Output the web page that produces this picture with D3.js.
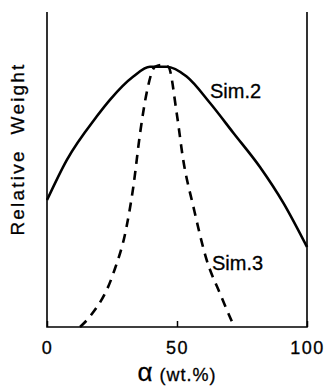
<!DOCTYPE html>
<html>
<head>
<meta charset="utf-8">
<script src="https://cdn.jsdelivr.net/npm/d3@7"></script>
<style>
  body { margin: 0; background: #fff; }
  text { font-family: "Liberation Sans", Arial, sans-serif; fill: #000; }
</style>
</head>
<body>
<div id="chart"></div>
<script>
// Sim.2 (solid) and Sim.3 (dashed), relative weight vs alpha (wt%)
const sim2X = [0, 7.6, 19.1, 24.2, 33.2, 39.6, 46.0, 53.7, 62.7, 71.7, 81.9, 90.9, 100];
const sim2Y = [40.3, 53.0, 66.8, 72.1, 79.5, 82.6, 82.6, 79.5, 71.1, 61.6, 50.8, 39.4, 25.4];
const sim3X = [12.7, 16.5, 25.5, 30.6, 33.2, 35.8, 38.3, 41.5, 44, 46.7, 49.9, 52.4, 56.3, 61.4, 66.5, 71.7];
const sim3Y = [0, 3.3, 17.0, 31.8, 44.5, 61.5, 74.2, 82.6, 83.2, 82.6, 67.8, 53.0, 38.2, 21.3, 10.7, 0.6];
const xTicks = [0, 50, 100];

let svgWidth = 325, svgHeight = 388;
let margin = {top: 12, right: 18, bottom: 61, left: 47},
    width = svgWidth - margin.left - margin.right,
    height = svgHeight - margin.top - margin.bottom;

let svg = d3.select("#chart").append("svg")
    .attr("width", svgWidth)
    .attr("height", svgHeight);

let x = d3.scaleLinear().domain([0, 100]).range([0, width]),
    y = d3.scaleLinear().domain([0, 100]).range([height, 0]),
    g = svg.append("g").attr("transform", "translate(" + margin.left + "," + margin.top + ")");

// frame: left, right and bottom lines only
g.append("path")
    .attr("d", "M0,0V" + height + "H" + width + "V0")
    .attr("fill", "none")
    .attr("stroke", "#000")
    .attr("stroke-width", 1.6);

// x axis ticks / labels
let xAxis = g.append("g")
    .attr("transform", "translate(0," + height + ")")
    .call(d3.axisBottom(x).tickValues(xTicks).tickSizeInner(-6).tickSizeOuter(0).tickPadding(14));
xAxis.select(".domain").remove();
xAxis.selectAll("line").attr("stroke-width", 1.5);
xAxis.selectAll("text")
    .attr("font-size", 18)
    .attr("letter-spacing", 1.5)
    .attr("stroke", "#000").attr("stroke-width", 0.3)
    .attr("font-family", "Liberation Sans, Arial, sans-serif");

let line = d3.line().x(d => x(d[0])).y(d => y(d[1])).curve(d3.curveMonotoneX);

g.append("path")
    .datum(sim2X.map((v, i) => [v, sim2Y[i]]))
    .attr("fill", "none")
    .attr("stroke", "#000")
    .attr("stroke-width", 2.6)
    .attr("d", line);

g.append("path")
    .datum(sim3X.map((v, i) => [v, sim3Y[i]]))
    .attr("fill", "none")
    .attr("stroke", "#000")
    .attr("stroke-width", 2.6)
    .attr("stroke-dasharray", "9,7")
    .attr("d", line);

// labels
svg.append("text").attr("x", 210).attr("y", 98).attr("font-size", 20)
    .attr("stroke", "#000").attr("stroke-width", 0.3).text("Sim.2");
svg.append("text").attr("x", 212).attr("y", 270).attr("font-size", 20)
    .attr("stroke", "#000").attr("stroke-width", 0.3).text("Sim.3");

svg.append("text")
    .attr("transform", "translate(24,149) rotate(-90)")
    .attr("text-anchor", "middle")
    .attr("font-size", 19)
    .attr("letter-spacing", 2.2)
    .attr("stroke", "#000").attr("stroke-width", 0.3)
    .attr("xml:space", "preserve")
    .text("Relative  Weight");

let xl = svg.append("text")
    .attr("x", 177)
    .attr("y", 381)
    .attr("text-anchor", "middle")
    .attr("font-size", 18)
    .attr("letter-spacing", 1)
    .attr("stroke", "#000").attr("stroke-width", 0.3)
    .attr("xml:space", "preserve");
xl.append("tspan").attr("font-size", 26).text("α");
xl.append("tspan").text(" (wt.%)");
</script>
</body>
</html>
